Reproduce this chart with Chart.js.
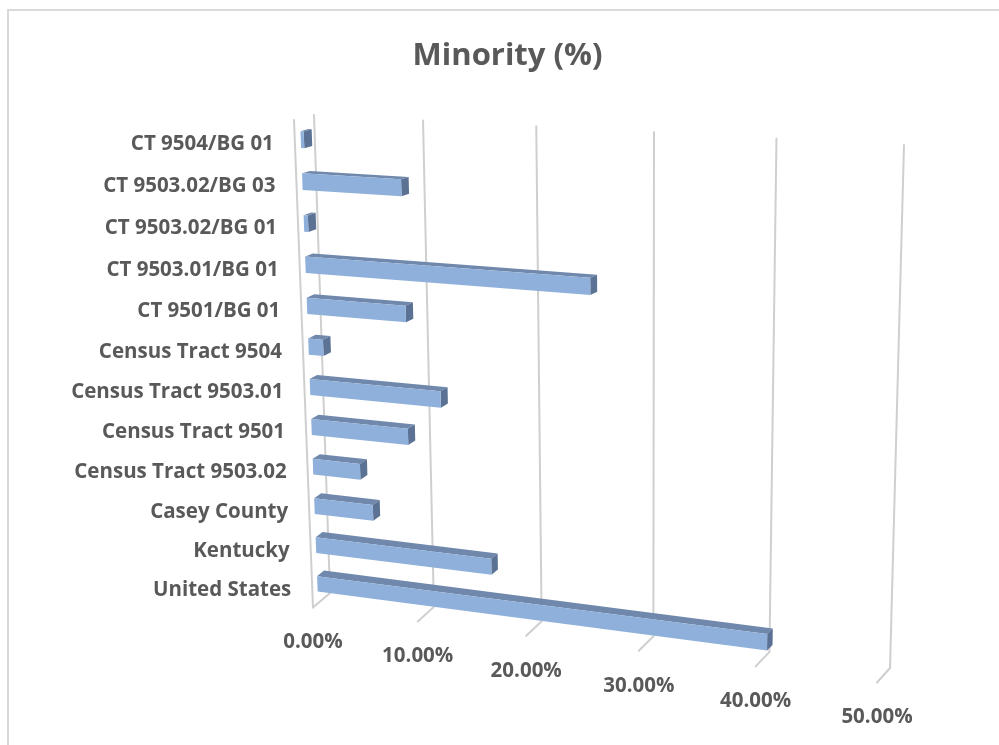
<!DOCTYPE html>
<html>
<head>
<meta charset="utf-8">
<script src="https://cdn.jsdelivr.net/npm/chart.js@4.4.1/dist/chart.umd.min.js"></script>
<style>
  html, body { margin: 0; padding: 0; background: #ffffff; }
  #wrap { width: 999px; height: 745px; position: relative; overflow: hidden; }
</style>
</head>
<body>
<div id="wrap"><canvas id="chart" width="999" height="745"></canvas></div>
<script>
// Categories, listed top to bottom
const categories = [
  'CT 9504/BG 01',
  'CT 9503.02/BG 03',
  'CT 9503.02/BG 01',
  'CT 9503.01/BG 01',
  'CT 9501/BG 01',
  'Census Tract 9504',
  'Census Tract 9503.01',
  'Census Tract 9501',
  'Census Tract 9503.02',
  'Casey County',
  'Kentucky',
  'United States'
];

// Minority share of the population, in percent
const minorityPct = [0.3, 9.1, 0.4, 25.6, 9.2, 1.4, 12.2, 9.1, 4.5, 5.6, 16.5, 40.6];

// Value axis ticks
const tickValues = [0, 10, 20, 30, 40, 50];
const tickLabels = ['0.00%', '10.00%', '20.00%', '30.00%', '40.00%', '50.00%'];

// ---- 3-D view: back wall corners on screen (value 0/50 x top/bottom) ----
const WALL = { tl: [314, 115], tr: [904, 145], br: [890, 668], bl: [330, 593] };
const BAR_BACK = 0.3, BAR_FRONT = 0.7;   // bar depth within the floor (gap depth 150%)

const TEXT = '#595959';
const GRID = '#cfcfcf';
const FACE_FRONT = '#8fb0da';
const FACE_TOP = '#6f88ac';
const FACE_END = '#5c7295';
const LABEL_FONT = 'bold 20.5px "Open Sans"';

// square (s,t) -> quad homography
function makeHomography(q) {
  const [x0, y0] = q.tl, [x1, y1] = q.tr, [x2, y2] = q.br, [x3, y3] = q.bl;
  const sx = x0 - x1 + x2 - x3, sy = y0 - y1 + y2 - y3;
  const dx1 = x1 - x2, dx2 = x3 - x2, dy1 = y1 - y2, dy2 = y3 - y2;
  const den = dx1 * dy2 - dx2 * dy1;
  const g = (sx * dy2 - dx2 * sy) / den;
  const h = (dx1 * sy - sx * dy1) / den;
  const a = x1 - x0 + g * x1, b = x3 - x0 + h * x3, c = x0;
  const d = y1 - y0 + g * y1, e = y3 - y0 + h * y3, f = y0;
  return (s, t) => {
    const w = g * s + h * t + 1;
    return [(a * s + b * t + c) / w, (d * s + e * t + f) / w];
  };
}
const wall = makeHomography(WALL);

// depth direction (back wall -> front edge of floor)
function depthVec(s, t) {
  const dxTop = -20 + 4 * s, dxBot = -17 + 4 * s;
  return [dxTop + (dxBot - dxTop) * t, 5 + 9.5 * t];
}
function project(s, t, d) {
  const p = wall(s, t);
  const v = depthVec(s, t);
  return [p[0] + v[0] * d, p[1] + v[1] * d];
}

function poly(ctx, pts, fill) {
  ctx.beginPath();
  ctx.moveTo(pts[0][0], pts[0][1]);
  for (let i = 1; i < pts.length; i++) ctx.lineTo(pts[i][0], pts[i][1]);
  ctx.closePath();
  ctx.fillStyle = fill;
  ctx.fill();
}

const perspectivePlugin = {
  id: 'perspective',
  beforeDraw(chart) {
    const ctx = chart.ctx;
    ctx.save();
    ctx.fillStyle = '#ffffff';
    ctx.fillRect(0, 0, chart.width, chart.height);
    ctx.fillStyle = '#d9d9d9';
    ctx.fillRect(7, 9, chart.width, 2);
    ctx.fillRect(7, 9, 2, chart.height);
    ctx.restore();
  },
  beforeDatasetsDraw(chart) {
    const ctx = chart.ctx;
    const xs = chart.scales.x, ys = chart.scales.y, area = chart.chartArea;
    const S = px => (xs.getValueForPixel(px) - xs.min) / (xs.max - xs.min);
    const T = py => (py - area.top) / (area.bottom - area.top);

    ctx.save();
    ctx.lineCap = 'round';
    // gridlines on the back wall and the floor
    ctx.strokeStyle = GRID;
    ctx.lineWidth = 2;
    tickValues.forEach(v => {
      const s = S(xs.getPixelForValue(v));
      const a = project(s, 0, 0), b = project(s, 1, 0), c = project(s, 1, 1);
      ctx.beginPath();
      ctx.moveTo(a[0], a[1]); ctx.lineTo(b[0], b[1]); ctx.lineTo(c[0], c[1]);
      ctx.stroke();
    });
    // front edge of the side wall
    const e0 = project(0, 0, 1), e1 = project(0, 1, 1);
    ctx.beginPath();
    ctx.moveTo(e0[0], e0[1]); ctx.lineTo(e1[0], e1[1]);
    ctx.stroke();

    // bars
    const meta = chart.getDatasetMeta(0);
    meta.data.forEach(bar => {
      const p = bar.getProps(['x', 'y', 'base', 'height'], true);
      const s0 = S(p.base), s1 = S(p.x);
      const t0 = T(p.y - p.height / 2), t1 = T(p.y + p.height / 2);
      const fTL = project(s0, t0, BAR_FRONT), fTR = project(s1, t0, BAR_FRONT);
      const fBR = project(s1, t1, BAR_FRONT), fBL = project(s0, t1, BAR_FRONT);
      const bTL = project(s0, t0, BAR_BACK), bTR = project(s1, t0, BAR_BACK);
      const bBR = project(s1, t1, BAR_BACK);
      poly(ctx, [fTL, fTR, bTR, bTL], FACE_TOP);
      poly(ctx, [fTR, fBR, bBR, bTR], FACE_END);
      poly(ctx, [fTL, fTR, fBR, fBL], FACE_FRONT);
    });

    // category labels along the side wall
    ctx.fillStyle = TEXT;
    ctx.font = LABEL_FONT;
    ctx.textAlign = 'right';
    ctx.textBaseline = 'middle';
    categories.forEach((label, i) => {
      const t = T(ys.getPixelForValue(i));
      const q = project(0, t, 1);
      ctx.fillText(label, q[0] - 21, q[1] + 3 - t);
    });

    // value labels along the front edge of the floor
    ctx.textAlign = 'center';
    tickValues.forEach((v, i) => {
      const q = project(S(xs.getPixelForValue(v)), 1, 1);
      ctx.fillText(tickLabels[i], q[0], q[1] + 35);
    });
    ctx.restore();
    return false;
  }
};

new Chart(document.getElementById('chart'), {
  type: 'bar',
  data: {
    labels: categories,
    datasets: [{
      label: 'Minority (%)',
      data: minorityPct,
      backgroundColor: FACE_FRONT,
      barPercentage: 0.4,
      categoryPercentage: 1.0
    }]
  },
  options: {
    indexAxis: 'y',
    responsive: false,
    animation: false,
    devicePixelRatio: 1,
    layout: { padding: { left: 16, top: 0, right: 0, bottom: 0 } },
    scales: {
      x: { min: 0, max: 50, display: false },
      y: { display: false }
    },
    plugins: {
      legend: { display: false },
      tooltip: { enabled: false },
      title: {
        display: true,
        text: 'Minority (%)',
        color: TEXT,
        font: { family: 'Open Sans', size: 31, weight: 'bold' },
        padding: { top: 38, bottom: 10 }
      }
    }
  },
  plugins: [perspectivePlugin]
});
</script>
</body>
</html>
